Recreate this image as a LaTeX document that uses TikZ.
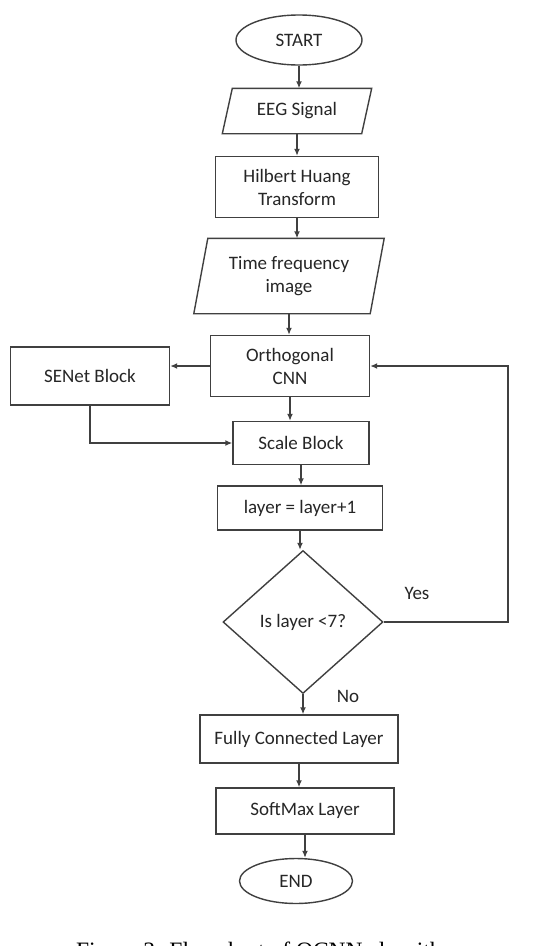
\documentclass[tikz,border=0pt]{standalone}
\usepackage{fontspec}
\setmainfont{Carlito}
\newfontfamily\capfont{Liberation Serif}
\usetikzlibrary{shapes.geometric}
\usetikzlibrary{arrows.meta}
\usetikzlibrary{calc}
\tikzset{base/.style={text=black!85, font=\fontsize{19}{23}\selectfont, align=center, inner sep=0pt},
proc/.style={base, draw, rectangle},
term/.style={base, draw, ellipse},
iobox/.style={base, rectangle},
decide/.style={base, draw, diamond},
flow/.style={-{Latex[length=7pt,width=6pt]}}}

\begin{document}
\begin{tikzpicture}[x=1pt,y=-1pt,line width=1.4pt,color=black!75]
\fill[white] (0,0) rectangle (536,946);
\useasboundingbox (0,0) rectangle (536,946);
% main column
\node[term, minimum width=126pt, minimum height=50pt] (start) at (299,40) {START};
\node[iobox, minimum width=138pt, minimum height=44pt] (eeg) at (297,111) {EEG Signal};
\node[proc, minimum width=163pt, minimum height=61pt] (hht) at (297,187) {Hilbert Huang\\Transform};
\node[iobox, minimum width=175pt, minimum height=74pt] (tfi) at (289,276) {Time frequency\\image};
\node[proc, minimum width=159pt, minimum height=61pt] (ocnn) at (290,366) {Orthogonal\\CNN};
\node[proc, minimum width=159pt, minimum height=58pt] (senet) at (90,376) {SENet Block};
\node[proc, minimum width=136pt, minimum height=43pt] (scale) at (301,443) {Scale Block};
\node[proc, minimum width=165pt, minimum height=44pt] (layer) at (300,508) {layer = layer+1};
\node[decide, minimum width=160pt, minimum height=143pt] (check) at (303,622) {Is layer <7?};
\node[proc, minimum width=198pt, minimum height=48pt] (fc) at (299,739) {Fully Connected Layer};
\node[proc, minimum width=178pt, minimum height=46pt] (soft) at (305,811) {SoftMax Layer};
\node[term, minimum width=113pt, minimum height=45pt] (stop) at (296,881) {END};
% slanted input boxes
\foreach \n/\s in {eeg/5,tfi/7}
\draw ($(\n.south west)+(-\s,0)$) -- ($(\n.north west)+(\s,0)$) -- ($(\n.north east)+(\s,0)$) -- ($(\n.south east)+(-\s,0)$) -- cycle;
\foreach \a/\b in {start/eeg,eeg/hht,hht/tfi,tfi/ocnn,ocnn/scale,scale/layer,layer/check,check/fc,fc/soft,soft/stop}
\draw[flow] (\a.south) -- (\a.south |- \b.north);
\draw[flow] (ocnn.west) -- (ocnn.west -| senet.east);
\draw[flow] (senet.south) |- (scale.west);
\coordinate (back) at (508,622);
\draw[flow] (check.east) -- (back) |- (ocnn.east);
\node[base] (yes) at (417,593) {Yes};
\node[base] (no) at (348,696) {No};
\node[base, text=black, font=\capfont\fontsize{23.5}{27}\selectfont, anchor=north] (caption) at (268,941) {Figure 3: Flowchart of OCNN algorithm};
\end{tikzpicture}
\end{document}
